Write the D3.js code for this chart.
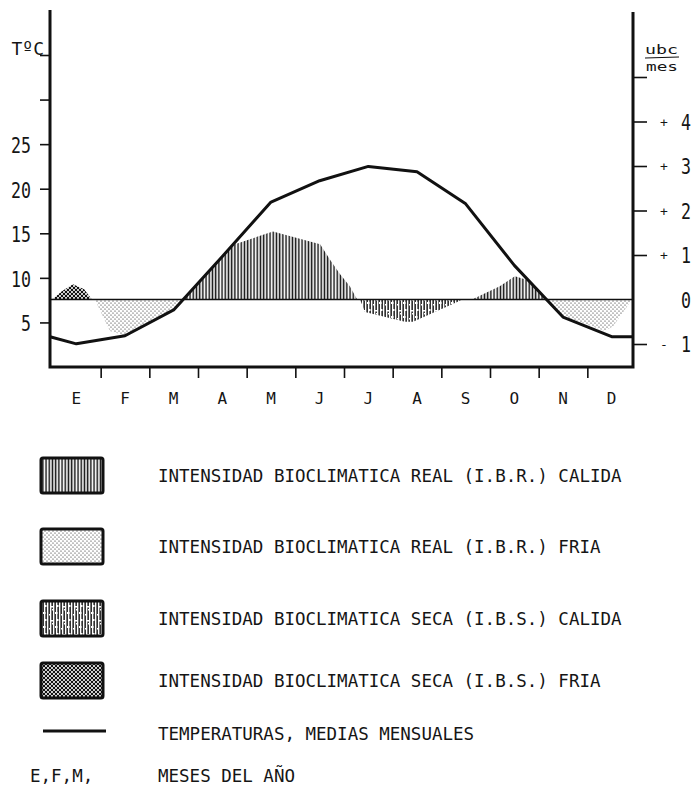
<!DOCTYPE html>
<html>
<head>
<meta charset="utf-8">
<script src="https://cdn.jsdelivr.net/npm/d3@7"></script>
<style>
  html, body { margin: 0; padding: 0; background: #fff; }
  svg { display: block; }
  text { font-family: "DejaVu Sans Mono", monospace; fill: #151515; }
</style>
</head>
<body>
<div id="wrapper"></div>
<script>
// months of the year (Spanish initials)
const months = ["E", "F", "M", "A", "M", "J", "J", "A", "S", "O", "N", "D"];

// mean monthly temperature, deg C
const temps = [2.6, 3.5, 6.4, 12.4, 18.5, 20.9, 22.5, 21.9, 18.3, 11.4, 5.6, 3.4];
const tempEdge = 3.4; // value carried to the year edges

// left axis ticks
const tempTicks = [5, 10, 15, 20, 25, 30, 35];
const tempLabels = ["5", "10", "15", "20", "25", "", ""];

// right axis (ubc / mes)
const ubcTicks = [-1, 1, 2, 3, 4, 5];
const ubcLabelValues = [-1, 0, 1, 2, 3, 4];
const ubcSigns = ["-", "", "+", "+", "+", "+"];

// bioclimatic intensity areas: [month position, ubc]
const ibsFriaJan = [[0, 0], [0.21, 0.19], [0.43, 0.34], [0.66, 0.23], [0.82, 0]];
const ibrFriaFebMar = [[0.88, 0], [1.19, -0.71], [1.46, -0.8], [1.5, -0.8], [2.49, -0.22], [2.68, 0]];
const ibrCalidaSpring = [[2.68, 0], [3.5, 0.99], [3.76, 1.24], [4.54, 1.53], [5.51, 1.24], [5.71, 0.9], [5.92, 0.57], [6.12, 0.3], [6.27, 0]];
const ibsCalidaSummer = [[6.33, 0], [6.43, -0.28], [7.25, -0.5], [7.42, -0.5], [8.44, 0]];
const ibrCalidaAutumn = [[8.63, 0], [9.2, 0.3], [9.51, 0.52], [9.82, 0.42], [10.18, 0]];
const ibrFriaWinter = [[10.18, 0], [10.5, -0.37], [11.36, -0.71], [11.53, -0.6], [11.92, 0]];

// legend
const legendLabels = [
    "INTENSIDAD BIOCLIMATICA REAL (I.B.R.) CALIDA",
    "INTENSIDAD BIOCLIMATICA REAL (I.B.R.) FRIA",
    "INTENSIDAD BIOCLIMATICA SECA (I.B.S.) CALIDA",
    "INTENSIDAD BIOCLIMATICA SECA (I.B.S.) FRIA",
    "TEMPERATURAS, MEDIAS MENSUALES"
];
const legendFills = ["url(#hatch)", "url(#dots)", "url(#seca)", "url(#cross)", null];
const monthKeyShort = "E,F,M,";
const monthKeyText = "MESES DEL AÑO";

const width = 694, height = 787;
const axisLeftX = 50, axisRightX = 633, axisBottomY = 367;
const legendRowY = [475, 546, 618, 680, 733];

const x = d3.scaleLinear().domain([0, 12]).range([52, 636]);
const yTemp = d3.scaleLinear().domain([0, 35]).range([axisBottomY, 55]);
const yUbc = d3.scaleLinear().domain([-1, 5]).range([344, 77]);

const svg = d3.select("#wrapper")
    .append("svg")
    .attr("width", width)
    .attr("height", height);

const defs = svg.append("defs");

// vertical hatch
const hatch = defs.append("pattern").attr("id", "hatch")
    .attr("patternUnits", "userSpaceOnUse").attr("width", 3.2).attr("height", 10);
hatch.append("rect").attr("x", 0.5).attr("y", 0).attr("width", 1.5).attr("height", 10).attr("fill", "#111");

// dots
const dots = defs.append("pattern").attr("id", "dots")
    .attr("patternUnits", "userSpaceOnUse").attr("width", 4).attr("height", 4);
dots.append("circle").attr("cx", 1).attr("cy", 1).attr("r", 0.6).attr("fill", "#111");
dots.append("circle").attr("cx", 3).attr("cy", 3).attr("r", 0.6).attr("fill", "#111");

// speckled vertical hatch
const seca = defs.append("pattern").attr("id", "seca")
    .attr("patternUnits", "userSpaceOnUse").attr("width", 12).attr("height", 14);
[0.4, 3.4, 6.4, 9.4].forEach(function (lx) {
    seca.append("rect").attr("x", lx).attr("y", 0).attr("width", 1.5).attr("height", 14).attr("fill", "#1a1a1a");
});
[[2, 2, 3, 1.5], [7, 8, 2.5, 2], [1, 10, 2, 1.5], [9, 1, 1.5, 2], [4, 5, 2, 1.5]].forEach(function (r) {
    seca.append("rect").attr("x", r[0]).attr("y", r[1]).attr("width", r[2]).attr("height", r[3]).attr("fill", "#fff");
});

// dense cross hatch
const cross = defs.append("pattern").attr("id", "cross")
    .attr("patternUnits", "userSpaceOnUse").attr("width", 4).attr("height", 4);
cross.append("rect").attr("width", 4).attr("height", 4).attr("fill", "#111");
[[0, 0], [4, 0], [0, 4], [4, 4], [2, 2]].forEach(function (c) {
    cross.append("circle").attr("cx", c[0]).attr("cy", c[1]).attr("r", 1.05).attr("fill", "#fff");
});

// areas
const area = d3.area()
    .x(d => x(d[0]))
    .y0(yUbc(0))
    .y1(d => yUbc(d[1]));

const areas = [
    [ibsFriaJan, "url(#cross)"],
    [ibrFriaFebMar, "url(#dots)"],
    [ibrCalidaSpring, "url(#hatch)"],
    [ibsCalidaSummer, "url(#seca)"],
    [ibrCalidaAutumn, "url(#hatch)"],
    [ibrFriaWinter, "url(#dots)"]
];

svg.append("g")
    .selectAll("path")
    .data(areas)
    .enter()
    .append("path")
    .attr("d", d => area(d[0]))
    .attr("fill", d => d[1]);

// zero line of the ubc scale
svg.append("line")
    .attr("x1", axisLeftX).attr("x2", axisRightX)
    .attr("y1", yUbc(0)).attr("y2", yUbc(0))
    .attr("stroke", "#111").attr("stroke-width", 1.6);

// temperature line
const tempPoints = [[axisLeftX, tempEdge]]
    .concat(temps.map((t, i) => [x(i + 0.5), t]))
    .concat([[axisRightX, tempEdge]]);

svg.append("path")
    .datum(tempPoints)
    .attr("d", d3.line().x(d => d[0]).y(d => yTemp(d[1])))
    .attr("fill", "none")
    .attr("stroke", "#111")
    .attr("stroke-width", 3)
    .attr("stroke-linejoin", "round");

// tick marks
const leftAxis = svg.append("g")
    .attr("transform", `translate(${axisLeftX},0)`)
    .call(d3.axisLeft(yTemp).tickValues(tempTicks).tickSize(10).tickFormat(""));
const rightAxis = svg.append("g")
    .attr("transform", `translate(${axisRightX},0)`)
    .call(d3.axisRight(yUbc).tickValues(ubcTicks).tickSize(14).tickFormat(""));
const bottomAxis = svg.append("g")
    .attr("transform", `translate(0,${axisBottomY})`)
    .call(d3.axisBottom(x).tickValues(d3.range(1, 12)).tickSize(11).tickFormat(""));

[leftAxis, rightAxis, bottomAxis].forEach(function (g) {
    g.select(".domain").remove();
    g.selectAll("line").attr("stroke", "#111").attr("stroke-width", 1.6);
});

// frame
svg.append("path")
    .attr("d", `M${axisLeftX},10 V${axisBottomY} H${axisRightX} V12`)
    .attr("fill", "none")
    .attr("stroke", "#111")
    .attr("stroke-width", 3);

// left labels
svg.append("g")
    .selectAll("text")
    .data(tempTicks.filter((d, i) => tempLabels[i] !== ""))
    .enter()
    .append("text")
    .attr("x", 31)
    .attr("y", d => yTemp(d) + 9)
    .attr("text-anchor", "end")
    .attr("font-size", 21)
    .attr("textLength", d => tempLabels[tempTicks.indexOf(d)].length * 10)
    .attr("lengthAdjust", "spacingAndGlyphs")
    .text(d => tempLabels[tempTicks.indexOf(d)]);

svg.append("text")
    .attr("x", 44).attr("y", 55)
    .attr("text-anchor", "end")
    .attr("font-size", 18)
    .text("TºC");

// right labels
const rightLabels = svg.append("g")
    .selectAll("g")
    .data(ubcLabelValues)
    .enter()
    .append("g");

rightLabels.append("text")
    .attr("x", 664)
    .attr("y", d => yUbc(d) + 5)
    .attr("text-anchor", "middle")
    .attr("font-size", 13)
    .text((d, i) => ubcSigns[i]);

rightLabels.append("text")
    .attr("x", 681)
    .attr("y", d => yUbc(d) + 8)
    .attr("font-size", 21)
    .attr("textLength", 10)
    .attr("lengthAdjust", "spacingAndGlyphs")
    .text(d => Math.abs(d));

svg.append("text")
    .attr("x", 645).attr("y", 54)
    .attr("font-size", 13)
    .attr("textLength", 33)
    .attr("lengthAdjust", "spacingAndGlyphs")
    .text("ubc");
svg.append("line")
    .attr("x1", 645).attr("x2", 679)
    .attr("y1", 58).attr("y2", 57)
    .attr("stroke", "#111").attr("stroke-width", 1.2);
svg.append("text")
    .attr("x", 646).attr("y", 71)
    .attr("font-size", 13)
    .attr("textLength", 32)
    .attr("lengthAdjust", "spacingAndGlyphs")
    .text("mes");

// month labels
svg.append("g")
    .selectAll("text")
    .data(months)
    .enter()
    .append("text")
    .attr("x", (d, i) => x(i + 0.5))
    .attr("y", 404)
    .attr("text-anchor", "middle")
    .attr("font-size", 16)
    .text(d => d);

// legend
const legend = svg.append("g")
    .selectAll("g")
    .data(legendLabels)
    .enter()
    .append("g")
    .attr("transform", (d, i) => `translate(0,${legendRowY[i]})`);

legend.filter((d, i) => legendFills[i] !== null)
    .append("rect")
    .attr("x", 41).attr("y", -17)
    .attr("width", 62).attr("height", 35)
    .attr("rx", 2)
    .attr("fill", d => legendFills[legendLabels.indexOf(d)])
    .attr("stroke", "#111")
    .attr("stroke-width", 3);

legend.filter((d, i) => legendFills[i] === null)
    .append("line")
    .attr("x1", 43).attr("x2", 106)
    .attr("y1", -2).attr("y2", -2)
    .attr("stroke", "#111")
    .attr("stroke-width", 3);

legend.append("text")
    .attr("x", 158)
    .attr("y", 6.5)
    .attr("font-size", 17.5)
    .text(d => d);

svg.append("text")
    .attr("x", 30).attr("y", 782)
    .attr("font-size", 17.5)
    .text(monthKeyShort);
svg.append("text")
    .attr("x", 158).attr("y", 782)
    .attr("font-size", 17.5)
    .text(monthKeyText);
</script>
</body>
</html>
